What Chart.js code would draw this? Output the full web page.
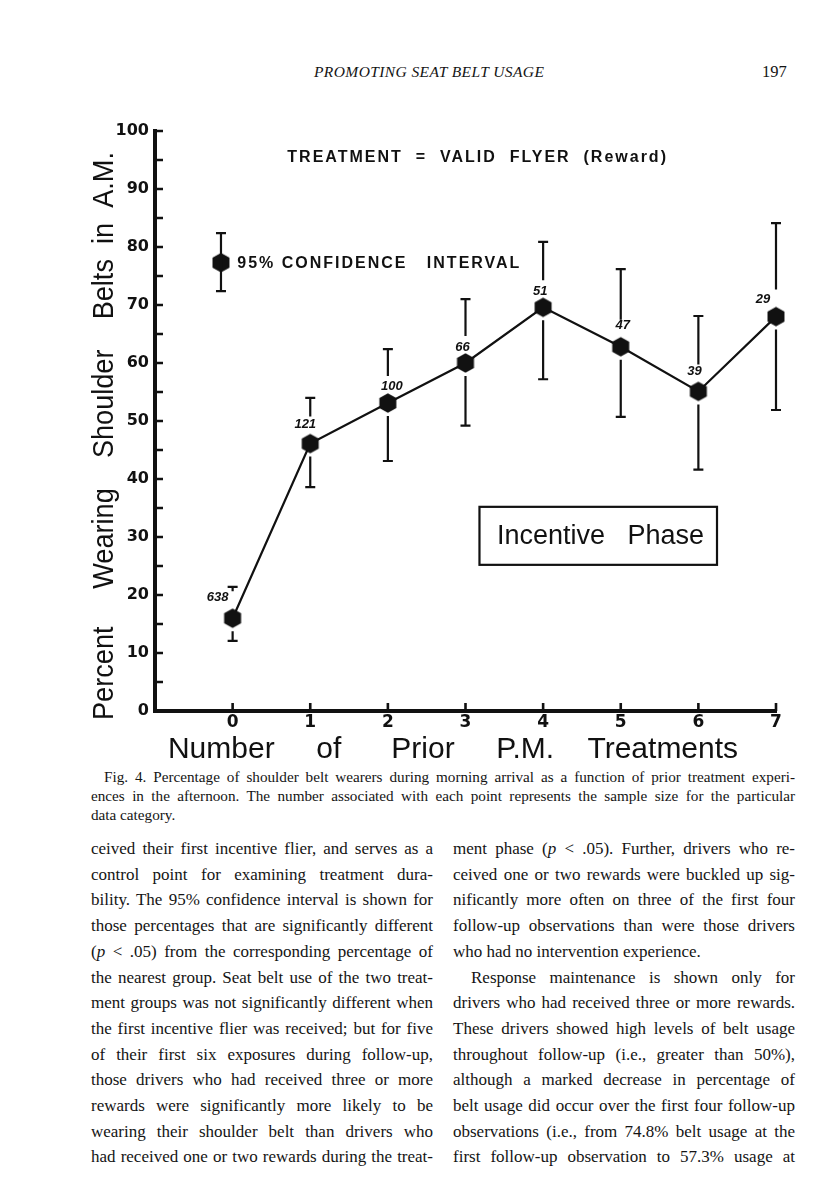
<!DOCTYPE html>
<html><head><meta charset="utf-8">
<script src="https://cdn.jsdelivr.net/npm/chart.js@4/dist/chart.umd.min.js"></script>
<style>
html,body{margin:0;padding:0;background:#fff;}
body{width:816px;height:1195px;position:relative;overflow:hidden;font-family:"Liberation Serif","Times New Roman",serif;color:#141414;}
.hdr{position:absolute;top:63px;line-height:18px;white-space:nowrap;}
#runhead{left:314px;font-size:15.5px;font-style:italic;letter-spacing:0.4px;}
#pageno{left:762px;font-size:16.5px;}
#wrap{position:absolute;left:0;top:100px;width:816px;height:680px;z-index:2;}
#caption{position:absolute;left:91px;top:767px;width:704px;font-size:15.2px;line-height:19px;}
.col{position:absolute;top:836px;width:342px;font-size:17px;line-height:25.7px;}
#colL{left:91px;}
#colR{left:453px;}
.ln{white-space:nowrap;text-align:justify;text-align-last:justify;}
.last{text-align:left;text-align-last:left;}
.ind{padding-left:18px;}
.cind{padding-left:13px;}
</style></head>
<body>
<div class="hdr" id="runhead">PROMOTING SEAT BELT USAGE</div>
<div class="hdr" id="pageno">197</div>

<div id="wrap"><canvas id="c" width="816" height="680"></canvas></div>

<div id="caption">
<div class="ln cind">Fig. 4. Percentage of shoulder belt wearers during morning arrival as a function of prior treatment experi-</div>
<div class="ln">ences in the afternoon. The number associated with each point represents the sample size for the particular</div>
<div class="ln last">data category.</div>
</div>

<div class="col" id="colL">
<div class="ln">ceived their first incentive flier, and serves as a</div>
<div class="ln">control point for examining treatment dura-</div>
<div class="ln">bility. The 95% confidence interval is shown for</div>
<div class="ln">those percentages that are significantly different</div>
<div class="ln">(<i>p</i> &lt; .05) from the corresponding percentage of</div>
<div class="ln">the nearest group. Seat belt use of the two treat-</div>
<div class="ln">ment groups was not significantly different when</div>
<div class="ln">the first incentive flier was received; but for five</div>
<div class="ln">of their first six exposures during follow-up,</div>
<div class="ln">those drivers who had received three or more</div>
<div class="ln">rewards were significantly more likely to be</div>
<div class="ln">wearing their shoulder belt than drivers who</div>
<div class="ln">had received one or two rewards during the treat-</div>
</div>

<div class="col" id="colR">
<div class="ln">ment phase (<i>p</i> &lt; .05). Further, drivers who re-</div>
<div class="ln">ceived one or two rewards were buckled up sig-</div>
<div class="ln">nificantly more often on three of the first four</div>
<div class="ln">follow-up observations than were those drivers</div>
<div class="ln last">who had no intervention experience.</div>
<div class="ln ind">Response maintenance is shown only for</div>
<div class="ln">drivers who had received three or more rewards.</div>
<div class="ln">These drivers showed high levels of belt usage</div>
<div class="ln">throughout follow-up (i.e., greater than 50%),</div>
<div class="ln">although a marked decrease in percentage of</div>
<div class="ln">belt usage did occur over the first four follow-up</div>
<div class="ln">observations (i.e., from 74.8% belt usage at the</div>
<div class="ln">first follow-up observation to 57.3% usage at</div>
</div>

<script>
// ---------- data ----------
const treatments     = [0, 1, 2, 3, 4, 5, 6, 7];
const xTickLabels    = ['0', '1', '2', '3', '4', '5', '6', '7'];
const yTickLabels    = ['0', '10', '20', '30', '40', '50', '60', '70', '80', '90', '100'];
const percentWearing = [16.0, 46.1, 53.1, 60.0, 69.6, 62.8, 55.1, 68.0];
const ciUpper        = [21.4, 54.0, 62.4, 71.0, 80.9, 76.2, 68.1, 84.1];
const ciLower        = [12.1, 38.6, 43.1, 49.2, 57.2, 50.7, 41.6, 51.9];
const sampleSizes    = ['638', '121', '100', '66', '51', '47', '39', '29'];
// legend key ("95% CONFIDENCE INTERVAL") sample marker
const keyX = [-0.15], keyY = [77.3], keyUpper = [82.4], keyLower = [72.4];

// ---------- styling ----------
const INK = '#111';
const labelOffsets = [[-15,-21],[-5,-19],[4,-17],[-3,-16],[-3,-16],[2,-21],[-4,-20],[-13,-17]];

function hexagon(r){
  const s = Math.ceil(r*2)+4, c = document.createElement('canvas');
  c.width = s; c.height = s;
  const g = c.getContext('2d'); g.fillStyle = INK; g.beginPath();
  for(let k=0;k<6;k++){ const a = -Math.PI/2 + k*Math.PI/3;
    const px = s/2 + r*Math.cos(a), py = s/2 + r*Math.sin(a);
    k ? g.lineTo(px,py) : g.moveTo(px,py); }
  g.closePath(); g.fill(); return c;
}
const hex = hexagon(9.8);

const mainData = treatments.map((t,i)=>({x:t, y:percentWearing[i]}));
const keyData  = keyX.map((x,i)=>({x:x, y:keyY[i]}));

const errorBars = {
  id:'errorBars',
  afterDatasetsDraw(chart){
    const {ctx} = chart, xs = chart.scales.x, ys = chart.scales.y;
    ctx.save(); ctx.strokeStyle = INK; ctx.lineWidth = 2.2; ctx.lineCap = 'butt';
    chart.data.datasets.forEach(ds=>{
      if(!ds.errUpper) return;
      ds.data.forEach((p,j)=>{
        const px = xs.getPixelForValue(p.x), py = ys.getPixelForValue(p.y);
        const hi = ys.getPixelForValue(ds.errUpper[j]), lo = ys.getPixelForValue(ds.errLower[j]);
        const cap = 5;
        ctx.beginPath();
        const topEnd = py - ds.gapTop;
        if(topEnd > hi){ ctx.moveTo(px,hi); ctx.lineTo(px,topEnd); }
        const botStart = py + ds.gapBottom;
        if(lo > botStart){ ctx.moveTo(px,botStart); ctx.lineTo(px,lo); }
        ctx.moveTo(px-cap,hi); ctx.lineTo(px+cap,hi);
        ctx.moveTo(px-cap,lo); ctx.lineTo(px+cap,lo);
        ctx.stroke();
      });
    });
    ctx.restore();
  }
};

const innerTicks = {
  id:'innerTicks',
  afterDraw(chart){
    const {ctx, chartArea:a} = chart, xs = chart.scales.x, ys = chart.scales.y;
    ctx.save(); ctx.strokeStyle = INK; ctx.lineWidth = 2.6;
    ctx.beginPath();
    ys.ticks.forEach(t=>{ if(t.value<=0) return; const y = ys.getPixelForValue(t.value);
      ctx.moveTo(a.left, y); ctx.lineTo(a.left+8, y); });
    xs.ticks.forEach(t=>{ if(t.value<0) return; const x = xs.getPixelForValue(t.value);
      ctx.moveTo(x, a.bottom); ctx.lineTo(x, a.bottom-8); });
    ctx.stroke(); ctx.restore();
  }
};

const pointLabels = {
  id:'pointLabels',
  afterDatasetsDraw(chart){
    const {ctx} = chart, xs = chart.scales.x, ys = chart.scales.y;
    ctx.save(); ctx.fillStyle = INK;
    ctx.font = 'italic bold 13px "Liberation Sans", Arial, sans-serif';
    ctx.textAlign = 'center'; ctx.textBaseline = 'middle';
    mainData.forEach((p,i)=>{
      const [dx,dy] = labelOffsets[i];
      ctx.fillText(sampleSizes[i], xs.getPixelForValue(p.x)+dx, ys.getPixelForValue(p.y)+dy);
    });
    ctx.restore();
  }
};

const annotations = {
  id:'annotations',
  afterDraw(chart){
    const {ctx} = chart, xs = chart.scales.x, ys = chart.scales.y;
    ctx.save(); ctx.fillStyle = INK; ctx.strokeStyle = INK;
    ctx.font = 'bold 16px "Liberation Sans", Arial, sans-serif';
    ctx.letterSpacing = '2px';
    ctx.textAlign = 'left'; ctx.textBaseline = 'middle';
    ctx.fillText('TREATMENT  =  VALID  FLYER  (Reward)', xs.getPixelForValue(0.705), ys.getPixelForValue(95.5));
    ctx.fillText('95% CONFIDENCE   INTERVAL', xs.getPixelForValue(0.06), ys.getPixelForValue(77.2));
    ctx.letterSpacing = '0px';
    // Incentive Phase box
    const bx0 = xs.getPixelForValue(3.18), bx1 = xs.getPixelForValue(6.24);
    const by0 = ys.getPixelForValue(35.2), by1 = ys.getPixelForValue(25.2);
    ctx.lineWidth = 2.2; ctx.strokeRect(bx0, by0, bx1-bx0, by1-by0);
    ctx.font = '27px "Liberation Sans", Arial, sans-serif';
    ctx.textAlign = 'center';
    ctx.fillText('Incentive   Phase', xs.getPixelForValue(4.74), ys.getPixelForValue(30.2)+1);
    // y-axis title
    ctx.save();
    ctx.translate(113, 336); ctx.rotate(-Math.PI/2);
    ctx.font = '29px "Liberation Sans", Arial, sans-serif';
    ctx.textAlign = 'center'; ctx.textBaseline = 'alphabetic';
    ctx.fillText('Percent     Wearing    Shoulder    Belts  in  A.M.', 0, 0, 568);
    ctx.restore();
    ctx.restore();
  }
};

new Chart(document.getElementById('c'), {
  type: 'line',
  data: {
    datasets: [
      { data: mainData, borderColor: INK, borderWidth: 2.2, pointStyle: hex, pointRadius: 10,
        tension: 0, fill: false, clip: false,
        errUpper: ciUpper, errLower: ciLower, gapTop: 27, gapBottom: 13 },
      { data: keyData, showLine: false, pointStyle: hex, pointRadius: 10, clip: false,
        errUpper: keyUpper, errLower: keyLower, gapTop: 0, gapBottom: 0 }
    ]
  },
  options: {
    responsive: false, animation: false, events: [],
    layout: { padding: { left: 0, right: 40, top: 31, bottom: 0 } },
    plugins: { legend: { display: false }, tooltip: { enabled: false } },
    scales: {
      x: {
        type: 'linear', min: -1, max: 7,
        afterFit: s => { s.height = 69; },
        grid: { display: true, drawOnChartArea: false, drawTicks: false },
        border: { display: true, color: INK, width: 4 },
        ticks: { stepSize: 1, autoSkip: false, padding: 1, color: INK,
          font: { family: '"DejaVu Sans", sans-serif', size: 17, weight: 'bold' },
          callback: v => (v >= 0 && v < xTickLabels.length) ? xTickLabels[v] : '' },
        title: { display: true, color: INK,
          text: 'Number     of      Prior     P.M.    Treatments   ',
          font: { family: '"Liberation Sans", Arial, sans-serif', size: 30, lineHeight: 1.2 },
          padding: { top: 0, bottom: 12 } }
      },
      y: {
        type: 'linear', min: 0, max: 100,
        afterFit: s => { s.width = 155; },
        grid: { display: true, drawOnChartArea: false, drawTicks: false },
        border: { display: true, color: INK, width: 4 },
        ticks: { stepSize: 5, autoSkip: false, padding: 6, color: INK,
          font: { family: '"DejaVu Sans", sans-serif', size: 16, weight: 'bold' },
          callback: v => (v % 10 === 0) ? yTickLabels[v/10] : '' }
      }
    }
  },
  plugins: [errorBars, innerTicks, pointLabels, annotations]
});
</script>
</body></html>
